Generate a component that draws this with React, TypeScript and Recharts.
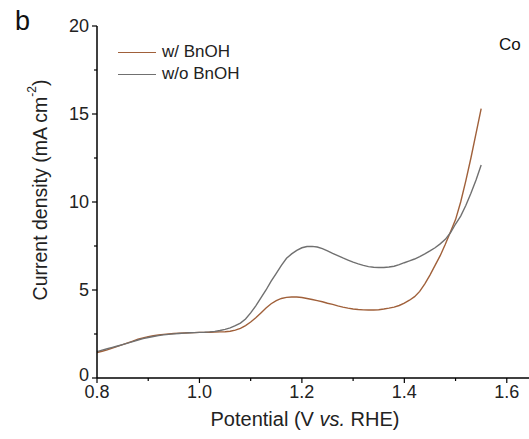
import { LineChart, Line, XAxis, YAxis } from "recharts";

// potential (V vs. RHE)
const potential = [
  0.8, 0.81, 0.82, 0.83, 0.84, 0.85, 0.86, 0.87, 0.88, 0.89,
  0.9, 0.91, 0.92, 0.93, 0.94, 0.95, 0.96, 0.97, 0.98, 0.99,
  1.0, 1.01, 1.02, 1.03, 1.04, 1.05, 1.06, 1.07, 1.08, 1.09,
  1.1, 1.11, 1.12, 1.13, 1.14, 1.15, 1.16, 1.17, 1.18, 1.19,
  1.2, 1.21, 1.22, 1.23, 1.24, 1.25, 1.26, 1.27, 1.28, 1.29,
  1.3, 1.31, 1.32, 1.33, 1.34, 1.35, 1.36, 1.37, 1.38, 1.39,
  1.4, 1.41, 1.42, 1.43, 1.44, 1.45, 1.46, 1.47, 1.48, 1.49,
  1.5, 1.51, 1.52, 1.53, 1.54, 1.55,
];

// current density (mA cm-2), w/ BnOH
const withBnOH = [
  1.45, 1.52, 1.6, 1.7, 1.8, 1.9, 2.0, 2.1, 2.2, 2.28,
  2.35, 2.4, 2.45, 2.48, 2.51, 2.53, 2.55, 2.56, 2.57, 2.58,
  2.59, 2.59, 2.6, 2.61, 2.62, 2.63, 2.66, 2.72, 2.82, 2.98,
  3.18, 3.42, 3.7, 3.98, 4.22, 4.4, 4.52, 4.58, 4.6, 4.6,
  4.57, 4.52, 4.46, 4.4, 4.33, 4.25, 4.18, 4.1, 4.03, 3.97,
  3.92, 3.89, 3.87, 3.86, 3.86, 3.88, 3.92, 3.97, 4.03, 4.12,
  4.25, 4.42, 4.62, 4.92, 5.35, 5.85, 6.4, 6.95, 7.6, 8.3,
  9.0, 10.0, 11.2, 12.5, 13.9, 15.3,
];

// current density (mA cm-2), w/o BnOH
const withoutBnOH = [
  1.5, 1.58, 1.66, 1.74, 1.82, 1.9, 1.98, 2.07, 2.16, 2.24,
  2.3, 2.36, 2.41, 2.45, 2.48, 2.51, 2.53, 2.55, 2.57, 2.58,
  2.59, 2.6, 2.62, 2.65, 2.7, 2.76, 2.85, 2.97, 3.12, 3.35,
  3.7, 4.1, 4.55, 5.0, 5.5, 5.95, 6.4, 6.8, 7.05, 7.25,
  7.4, 7.47, 7.48, 7.44, 7.35, 7.22, 7.08, 6.95, 6.82, 6.7,
  6.58, 6.48, 6.4, 6.33, 6.29, 6.28, 6.28, 6.31, 6.35, 6.44,
  6.55, 6.65, 6.76, 6.9, 7.05, 7.22, 7.4, 7.62, 7.88, 8.25,
  8.75, 9.2, 9.8, 10.5, 11.25, 12.1,
];

const xTicks = [0.8, 0.9, 1.0, 1.1, 1.2, 1.3, 1.4, 1.5, 1.6, 1.7];
const yTicks = [0, 2.5, 5, 7.5, 10, 12.5, 15, 17.5, 20];

const seriesNames = ["w/ BnOH", "w/o BnOH"];
const seriesColors = ["#a0603a", "#707070"];

const data = potential.map((v, i) => ({
  v,
  w: withBnOH[i],
  wo: withoutBnOH[i],
}));

const FONT = "'Liberation Sans', Arial, sans-serif";

const XTick = (props: any) => {
  const { x, y, payload } = props;
  const val = payload.value;
  const major = Math.abs(Math.round(val * 10) % 2) === 0;
  return (
    <g>
      <line x1={x} y1={y} x2={x} y2={y + (major ? 5 : 3)} stroke="#000" strokeWidth={1.2} />
      {major && val < 1.65 && (
        <text x={x} y={y + 20} textAnchor="middle" fontSize={18} fontFamily={FONT} fill="#222">
          {val.toFixed(1)}
        </text>
      )}
    </g>
  );
};

const YTick = (props: any) => {
  const { x, y, payload } = props;
  const val = payload.value;
  const major = val % 5 === 0;
  return (
    <g>
      <line x1={x} y1={y} x2={x - (major ? 5 : 3)} y2={y} stroke="#000" strokeWidth={1.2} />
      {major && (
        <text x={x - 8} y={y - (val === 0 ? 3 : 0)} dy="0.36em" textAnchor="end" fontSize={18} fontFamily={FONT} fill="#222">
          {val}
        </text>
      )}
    </g>
  );
};

export default function App() {
  return (
    <div style={{ position: "absolute", left: 0, top: 0, width: 529, height: 439, overflow: "hidden", background: "#fff" }}>
      <div style={{ position: "absolute", left: 15, top: 8, fontFamily: FONT, fontSize: 27, color: "#111", lineHeight: 1 }}>
        b
      </div>
      <div style={{ position: "absolute", left: 499, top: 36, fontFamily: FONT, fontSize: 17, color: "#111", lineHeight: 1 }}>
        Co
      </div>
      {/* legend */}
      <div style={{ position: "absolute", left: 118, top: 41, fontFamily: FONT, fontSize: 17, color: "#222", zIndex: 2 }}>
        {seriesNames.map((n, i) => (
          <div key={n} style={{ display: "flex", alignItems: "center", height: 22 }}>
            <span style={{ display: "inline-block", width: 38, height: 0, borderTop: `1.5px solid ${seriesColors[i]}`, marginRight: 6 }} />
            <span>{n}</span>
          </div>
        ))}
      </div>
      <LineChart
        width={600}
        height={439}
        data={data}
        margin={{ top: 26, right: 42, bottom: 0, left: 0 }}
      >
        <XAxis
          xAxisId="top"
          orientation="top"
          dataKey="v"
          type="number"
          domain={[0.8, 1.7]}
          tick={false}
          tickLine={false}
          stroke="#000"
          strokeWidth={1.5}
          height={0}
        />
        <XAxis
          dataKey="v"
          type="number"
          domain={[0.8, 1.7]}
          ticks={xTicks}
          interval={0}
          tickSize={0}
          tickMargin={0}
          tick={<XTick />}
          stroke="#000"
          strokeWidth={1.5}
          height={61}
          label={{
            content: () => (
              <text x={305} y={426} textAnchor="middle" fontSize={20} fontFamily={FONT} fill="#222">
                Potential (V <tspan fontStyle="italic">vs.</tspan> RHE)
              </text>
            ),
          }}
        />
        <YAxis
          type="number"
          domain={[0, 20]}
          ticks={yTicks}
          interval={0}
          tickSize={0}
          tickMargin={0}
          tick={<YTick />}
          stroke="#000"
          strokeWidth={1.5}
          width={97}
          label={{
            content: () => (
              <text
                x={40}
                y={190}
                textAnchor="middle"
                fontSize={19.5}
                fontFamily={FONT}
                fill="#222"
                transform="rotate(-90 40 190)"
                dominantBaseline="central"
              >
                Current density (mA cm
                <tspan fontSize={12} dy={-8}>-2</tspan>
                <tspan dy={8}>)</tspan>
              </text>
            ),
          }}
        />
        <Line
          type="linear"
          dataKey="w"
          name={seriesNames[0]}
          stroke={seriesColors[0]}
          strokeWidth={1.4}
          dot={false}
          isAnimationActive={false}
        />
        <Line
          type="linear"
          dataKey="wo"
          name={seriesNames[1]}
          stroke={seriesColors[1]}
          strokeWidth={1.4}
          dot={false}
          isAnimationActive={false}
        />
      </LineChart>
    </div>
  );
}
